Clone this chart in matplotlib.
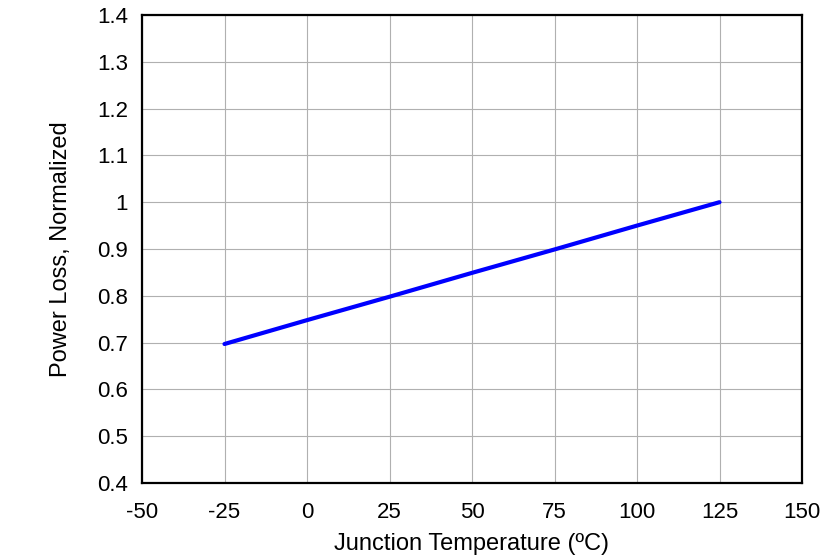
import matplotlib
matplotlib.use('Agg')
import matplotlib.pyplot as plt

temps = [-25, 0, 25, 50, 75, 100, 125]
loss = [0.697, 0.748, 0.798, 0.849, 0.899, 0.950, 1.0]

plt.rcParams['font.family'] = ['Liberation Sans', 'DejaVu Sans']
plt.rcParams['axes.unicode_minus'] = False

fig = plt.figure(figsize=(8.39, 5.59), dpi=100)
ax = fig.add_axes([142/839, 1-483/559, (802-142)/839, (483-15)/559])

ax.plot(temps, loss, color='#0000ff', lw=3.0, solid_capstyle='round')

ax.set_xlim(-50, 150)
ax.set_ylim(0.4, 1.4)
ax.set_xticks(range(-50, 151, 25))
ax.set_yticks([0.4, 0.5, 0.6, 0.7, 0.8, 0.9, 1, 1.1, 1.2, 1.3, 1.4])
ax.set_yticklabels(['0.4', '0.5', '0.6', '0.7', '0.8', '0.9', '1', '1.1', '1.2', '1.3', '1.4'])
ax.grid(True, color='#b0b0b0', lw=0.8)
ax.tick_params(axis='both', length=0, labelsize=16)
ax.tick_params(axis='x', pad=14)
ax.tick_params(axis='y', pad=10)
for s in ax.spines.values():
    s.set_linewidth(1.6)

ax.set_xlabel('Junction Temperature (ºC)', fontsize=17, labelpad=7)
ax.set_ylabel('Power Loss, Normalized', fontsize=17, labelpad=18)

fig.savefig('out.png', dpi=100)
